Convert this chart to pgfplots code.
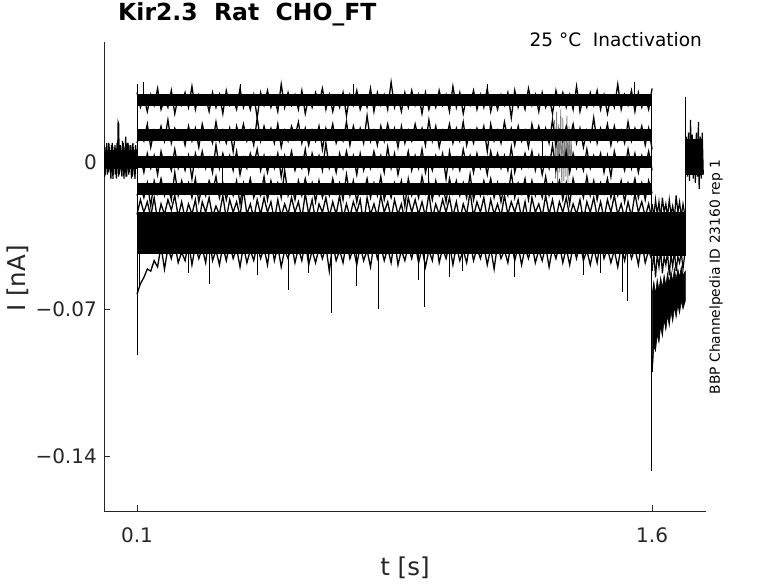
\documentclass[border=0pt]{standalone}
\usepackage{fontspec}
\setmainfont{DejaVu Sans}
\usepackage{pgfplots}
\usepackage{pgfplotstable}
\pgfplotsset{compat=1.18}
\definecolor{axc}{RGB}{38,38,38}

% current in pA, time in s
\pgfplotstableread{
t b1 b2 b3 b4 U L
0.10 33 9 -1 -16 -25 -63
0.11 26 14 2 -11 -18 -58
0.12 31 10 -5 -17 -24 -55
0.13 24 18 4 -10 -19 -51
0.14 32 7 -3 -21 -26 -52
0.15 27 15 3 -9 -17 -47
0.16 35 11 -6 -15 -28 -50
0.17 25 17 5 -8 -20 -40
0.18 30 10 -2 -16 -25 -51
0.19 26 20 1 -11 -18 -41
0.20 34 9 -4 -18 -23 -46
0.21 23 16 6 -5 -16 -39
0.22 31 12 -3 -16 -26 -48
0.23 27 15 2 -9 -19 -43
0.24 33 8 -4 -15 -27 -47
0.25 26 17 3 -10 -20 -38
0.26 36 10 -8 -17 -25 -49
0.27 25 16 4 -8 -18 -40
0.28 32 7 -2 -19 -29 -46
0.29 28 18 5 -11 -19 -41
0.30 31 11 -3 -16 -24 -48
0.31 24 14 2 -9 -17 -35
0.32 33 9 -5 -14 -26 -47
0.33 26 19 8 -7 -21 -42
0.34 32 10 -3 -17 -25 -49
0.35 23 15 4 -10 -16 -40
0.36 34 9 -2 -18 -27 -47
0.37 27 16 3 -11 -18 -39
0.38 30 5 -4 -16 -24 -46
0.39 25 17 5 -9 -19 -41
0.40 35 11 -6 -20 -26 -50
0.41 26 18 2 -10 -13 -40
0.42 31 10 -3 -15 -25 -48
0.43 25 15 4 -8 -20 -42
0.44 32 8 -1 -17 -27 -47
0.45 21 21 6 -12 -18 -39
0.46 33 10 -4 -16 -25 -46
0.47 27 17 3 -7 -17 -41
0.48 34 11 -5 -18 -24 -49
0.49 26 16 2 -9 -19 -37
0.50 31 9 -3 -15 -28 -47
0.51 24 18 4 -10 -18 -40
0.52 37 7 -7 -17 -26 -50
0.53 26 15 3 -4 -20 -42
0.54 33 10 -2 -16 -25 -46
0.55 27 17 5 -11 -17 -39
0.56 32 12 -4 -18 -24 -48
0.57 25 19 1 -9 -19 -41
0.58 34 9 -3 -16 -27 -47
0.59 23 16 6 -8 -15 -38
0.60 31 8 -5 -15 -25 -49
0.61 26 15 4 -10 -18 -42
0.62 33 10 -2 -19 -28 -48
0.63 28 17 3 -9 -20 -41
0.64 35 6 -4 -17 -24 -46
0.65 25 16 9 -11 -17 -40
0.66 32 11 -3 -16 -26 -52
0.67 24 18 2 -8 -19 -39
0.68 31 9 -5 -15 -25 -47
0.69 26 14 4 -10 -16 -42
0.70 33 10 -3 -18 -27 -48
0.71 22 19 5 -6 -20 -38
0.72 32 8 -2 -16 -26 -46
0.73 27 17 3 -9 -19 -41
0.74 34 11 -6 -19 -24 -49
0.75 25 16 4 -11 -18 -40
0.76 30 9 -4 -15 -30 -47
0.77 26 22 2 -8 -17 -42
0.78 35 10 -3 -17 -25 -50
0.79 24 15 5 -10 -20 -39
0.80 33 8 -2 -16 -26 -46
0.81 27 17 3 -7 -16 -40
0.82 32 10 -5 -18 -24 -47
0.83 25 18 7 -11 -19 -41
0.84 38 11 -3 -17 -27 -48
0.85 26 16 4 -10 -18 -37
0.86 31 7 -6 -15 -25 -49
0.87 24 17 2 -9 -20 -42
0.88 33 9 -2 -21 -28 -47
0.89 26 15 5 -8 -17 -40
0.90 34 10 -4 -16 -24 -46
0.91 27 18 3 -11 -18 -39
0.92 32 11 -3 -17 -25 -48
0.93 23 16 6 -7 -19 -41
0.94 33 8 -5 -15 -26 -50
0.95 25 20 2 -10 -15 -42
0.96 31 10 -4 -18 -27 -47
0.97 26 17 3 -9 -20 -36
0.98 34 7 -2 -16 -25 -48
0.99 27 15 4 -11 -18 -41
1.00 32 11 -8 -19 -24 -46
1.01 24 18 5 -8 -17 -39
1.02 36 9 -3 -15 -26 -49
1.03 26 16 2 -9 -19 -40
1.04 33 10 -4 -16 -28 -47
1.05 23 19 6 -10 -20 -42
1.06 31 8 -2 -17 -25 -48
1.07 27 15 3 -6 -14 -38
1.08 34 9 -5 -18 -26 -47
1.09 25 16 4 -11 -19 -41
1.10 32 11 -3 -16 -24 -46
1.11 26 17 2 -9 -17 -40
1.12 35 5 -6 -15 -27 -49
1.13 24 18 5 -8 -18 -41
1.14 31 10 -2 -17 -25 -51
1.15 25 15 4 -10 -20 -39
1.16 32 9 -3 -19 -26 -46
1.17 27 19 3 -11 -16 -42
1.18 33 11 -4 -16 -25 -48
1.19 21 16 7 -5 -19 -38
1.20 34 8 -5 -17 -24 -47
1.21 26 17 2 -10 -18 -40
1.22 31 10 -3 -15 -27 -49
1.23 25 15 4 -8 -19 -41
1.24 35 7 -2 -18 -29 -46
1.25 27 18 5 -9 -17 -39
1.26 32 11 -4 -16 -24 -48
1.27 24 17 3 -11 -20 -42
1.28 33 10 -6 -17 -26 -47
1.29 26 16 2 -7 -16 -40
1.30 31 9 -3 -16 -25 -50
1.31 23 20 8 -10 -18 -41
1.32 34 8 -4 -15 -27 -46
1.33 27 15 3 -9 -19 -39
1.34 33 10 -2 -18 -24 -48
1.35 26 17 5 -10 -17 -41
1.36 32 11 -5 -20 -26 -49
1.37 25 18 4 -8 -20 -40
1.38 36 9 -3 -15 -25 -46
1.39 24 16 2 -11 -18 -38
1.40 31 7 -4 -17 -28 -47
1.41 26 15 6 -7 -19 -42
1.42 33 10 -3 -16 -24 -49
1.43 27 21 3 -9 -17 -41
1.44 34 9 -2 -18 -26 -48
1.45 25 16 4 -10 -19 -37
1.46 32 11 -5 -15 -27 -46
1.47 23 18 3 -8 -18 -41
1.48 31 8 -7 -17 -24 -48
1.49 26 17 5 -11 -16 -42
1.50 37 10 -2 -16 -25 -50
1.51 25 15 2 -9 -20 -40
1.52 32 9 -4 -19 -27 -47
1.53 27 19 6 -10 -19 -39
1.54 34 10 -3 -15 -26 -46
1.55 24 16 4 -8 -15 -41
1.56 33 11 -5 -17 -24 -49
1.57 26 17 3 -10 -19 -38
1.58 31 8 -2 -18 -26 -48
1.59 25 16 5 -9 -20 -42
1.60 35 6 -4 -15 -28 -47
}\pulse

\begin{document}
\begin{tikzpicture}
\path[use as bounding box] (0pt,0pt) rectangle (778pt,583pt);
\begin{axis}[
  at={(104pt,72pt)}, anchor=south west,
  scale only axis, width=602pt, height=469pt,
  xmin=0.0039, xmax=1.757, ymin=-166.2, ymax=57.1,
  axis x line*=bottom, axis y line*=left,
  axis line style={-, axc, line width=0.6pt},
  tick align=inside, major tick length=6pt,
  tick style={axc, line width=0.6pt},
  xtick={0.1,1.6}, xticklabels={0.1,1.6},
  ytick={-140,-70,0}, yticklabels={−0.14,−0.07,0},
  ticklabel style={font=\fontsize{20}{24}\selectfont, text=axc},
  xticklabel style={anchor=north, inner sep=0pt, yshift=-16pt},
  yticklabel style={anchor=east, inner sep=0pt, xshift=-7pt},
  xlabel={t [s]}, ylabel={I [nA]},
  label style={font=\fontsize{24.5}{29}\selectfont, text=axc},
  xlabel style={at={(axis description cs:0.5,-0.1205)}, anchor=center, inner sep=0pt},
  ylabel style={at={(axis description cs:-0.1437,0.4957)}, anchor=center, inner sep=0pt},
  title={Kir2.3\ \ Rat\ \ CHO\_FT},
  title style={at={(axis description cs:0.0233,1.032)}, anchor=base west, inner sep=0pt,
    font=\bfseries\fontsize{23.5}{28}\selectfont},
  unbounded coords=jump,
]
% gray burst
\addplot[gray, line width=0.8pt] coordinates {
(1.316,20) (1.319,-8) (1.322,24) (1.325,-11) (1.328,18) (1.331,-5) (1.334,25)
(1.337,-12) (1.340,21) (1.343,-9) (1.346,15) (1.349,-7) (1.352,22) (1.355,-10)
(1.358,17) (1.361,-4) (1.364,12) (1.367,-2)};
% pre-pulse
\addplot[black, line width=19pt] coordinates {(0.0039,1) (0.1,1)};
\addplot[black, line width=1.2pt] coordinates {
(0.004,8) (0.008,-6) (0.012,9) (0.016,-5) (0.020,7) (0.024,-8) (0.028,9)
(0.032,-6) (0.036,8) (0.040,-8) (0.044,8) (0.045,19) (0.047,18) (0.048,-6)
(0.052,8) (0.056,-7) (0.060,9) (0.064,-5) (0.067,12) (0.068,-7) (0.072,9)
(0.076,-6) (0.080,8) (0.084,-8) (0.088,9) (0.092,-6) (0.096,8) (0.100,-3)};
\addplot[black, line width=1.2pt] coordinates {
(0.006,-7) (0.010,7) (0.014,-6) (0.018,9) (0.022,-5) (0.026,8) (0.030,-8)
(0.034,7) (0.038,-6) (0.042,9) (0.046,-7) (0.050,8) (0.054,-5) (0.058,10)
(0.062,-8) (0.066,7) (0.070,-7) (0.074,9) (0.078,-5) (0.082,8) (0.086,-7)
(0.090,7) (0.094,-8) (0.098,6)};
% pulse: band cores
\addplot[black, line width=12pt] coordinates {(0.1,29.5) (1.6,29.5)};
\addplot[black, line width=12pt] coordinates {(0.1,13) (1.6,13)};
\addplot[black, line width=12pt] coordinates {(0.1,0) (1.6,0)};
\addplot[black, line width=12pt] coordinates {(0.1,-13) (1.6,-13)};
\addplot[black, line width=42pt] coordinates {(0.1,-34) (1.6,-34)};
% pulse: noisy traces
\addplot[black, line width=1.3pt] table[x=t, y=b1] {\pulse};
\addplot[black, line width=1.3pt] table[x=t, y=b2] {\pulse};
\addplot[black, line width=1.3pt] table[x=t, y=b3] {\pulse};
\addplot[black, line width=1.3pt] table[x=t, y=b4] {\pulse};
\addplot[black, line width=1.3pt] table[x=t, y=U] {\pulse};
\addplot[black, line width=1.3pt] table[x=t, y=L] {\pulse};
% spikes
\addplot[black, line width=1pt] coordinates {
(0.1005,37) (0.1005,-92) (0.1005,nan)
(0.108,-44) (0.108,-60) (0.108,nan)
(0.12,30) (0.12,38) (0.12,nan)
(0.25,-44) (0.25,-53) (0.25,nan)
(0.311,-44) (0.311,-58) (0.311,nan)
(0.35,-13) (0.35,-2) (0.35,nan)
(0.40,30) (0.40,37) (0.40,nan)
(0.45,-44) (0.45,-54) (0.45,nan)
(0.541,-44) (0.541,-61) (0.541,nan)
(0.60,-44) (0.60,-53) (0.60,nan)
(0.667,-44) (0.667,-72) (0.667,nan)
(0.73,30) (0.73,37) (0.73,nan)
(0.739,-44) (0.739,-59) (0.739,nan)
(0.803,-44) (0.803,-70) (0.803,nan)
(0.920,-44) (0.920,-56) (0.920,nan)
(0.937,-44) (0.937,-69) (0.937,nan)
(0.95,0) (0.95,-10) (0.95,nan)
(1.010,-44) (1.010,-55) (1.010,nan)
(1.048,-44) (1.048,-52) (1.048,nan)
(1.12,30) (1.12,37) (1.12,nan)
(1.20,-44) (1.20,-55) (1.20,nan)
(1.28,13) (1.28,2) (1.28,nan)
(1.40,-44) (1.40,-54) (1.40,nan)
(1.45,-44) (1.45,-53) (1.45,nan)
(1.514,-44) (1.514,-62) (1.514,nan)
(1.529,-44) (1.529,-66) (1.529,nan)
(1.55,30) (1.55,38) (1.55,nan)
(1.5995,33) (1.5995,-147) (1.5995,nan)
(1.6985,31) (1.6985,-36)};
% tail
\addplot[black, line width=44pt] coordinates {(1.6,-34.5) (1.698,-34.5)};
\addplot[black, line width=1.2pt] coordinates {
(1.600,-20) (1.605,-26) (1.610,-18) (1.615,-25) (1.620,-19) (1.625,-27) (1.630,-17)
(1.635,-24) (1.640,-20) (1.645,-26) (1.650,-18) (1.655,-25) (1.660,-21) (1.665,-27)
(1.670,-16) (1.675,-24) (1.680,-19) (1.685,-26) (1.690,-20) (1.695,-25)};
\addplot[black, line width=1.2pt] coordinates {
(1.600,-52) (1.605,-43) (1.610,-55) (1.615,-44) (1.620,-50) (1.625,-42) (1.630,-53)
(1.635,-45) (1.640,-49) (1.645,-43) (1.650,-54) (1.655,-44) (1.660,-50) (1.665,-42)
(1.670,-52) (1.675,-45) (1.680,-48) (1.685,-43) (1.690,-51) (1.695,-44)};
\addplot[black, fill=black, line width=0.6pt] coordinates {
(1.601,-62) (1.605,-57) (1.610,-63) (1.615,-56) (1.620,-61) (1.625,-55) (1.630,-60)
(1.635,-54) (1.640,-59) (1.645,-53) (1.650,-58) (1.655,-52) (1.660,-57) (1.665,-51)
(1.670,-56) (1.675,-51) (1.680,-55) (1.685,-50) (1.690,-54) (1.697,-52)
(1.697,-66) (1.690,-70) (1.685,-66) (1.680,-72) (1.675,-68) (1.670,-74) (1.665,-69)
(1.660,-76) (1.655,-71) (1.650,-78) (1.645,-73) (1.640,-80) (1.635,-75) (1.630,-83)
(1.625,-78) (1.620,-86) (1.615,-82) (1.610,-90) (1.605,-88) (1.601,-100)} --cycle;
% post
\addplot[black, line width=36pt] coordinates {(1.699,2.5) (1.7487,2.5)};
\addplot[black, line width=1.2pt] coordinates {
(1.700,12) (1.703,-7) (1.706,14) (1.709,-9) (1.712,20) (1.714,-6) (1.717,13)
(1.720,-8) (1.723,11) (1.726,-10) (1.729,14) (1.732,-7) (1.735,19) (1.737,-13)
(1.740,12) (1.743,-8) (1.746,14) (1.749,-6)};
\end{axis}
\node[anchor=base east, inner sep=0pt, text=black, font=\fontsize{18.5}{22}\selectfont]
  at (702pt,536pt) {25 °C\ \ Inactivation};
\node[rotate=90, anchor=center, inner sep=0pt, text=black, font=\fontsize{13.8}{16}\selectfont]
  at (716pt,306pt) {BBP Channelpedia ID 23160 rep 1};
\end{tikzpicture}
\end{document}
